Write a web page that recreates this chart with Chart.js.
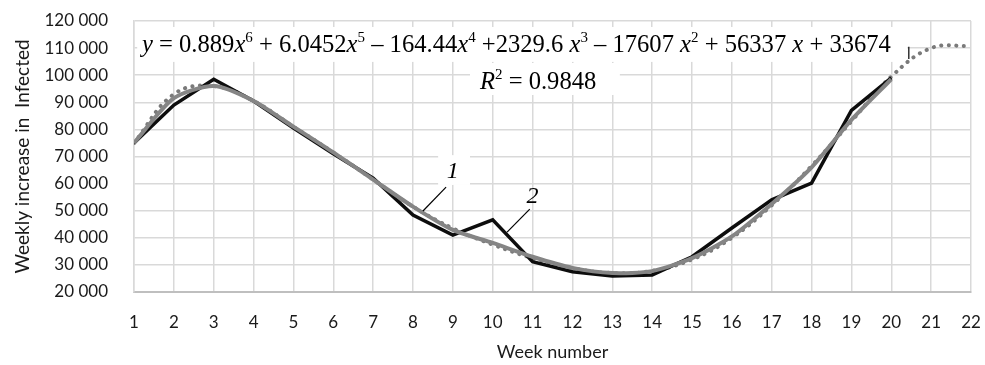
<!DOCTYPE html>
<html>
<head>
<meta charset="utf-8">
<script src="https://cdn.jsdelivr.net/npm/chart.js@4/dist/chart.umd.min.js"></script>
<style>
  html, body { margin: 0; padding: 0; background: #fff; }
  #wrap { width: 985px; height: 365px; }
</style>
</head>
<body>
<div id="wrap"><canvas id="chart"></canvas></div>
<script>
// weeks on the x axis
const weeks = [1, 2, 3, 4, 5, 6, 7, 8, 9, 10, 11, 12, 13, 14, 15, 16, 17, 18, 19, 20, 21, 22];

// curve 2: observed weekly increase (black)
const observed = [75000, 89000, 98500, 90500, 80500, 71000, 62000, 48400, 41000, 46600,
  31200, 27500, 25900, 26300, 33000, 43600, 54000, 60200, 87000, 99000];

// curve 1: model (grey)
const model = [75000, 91500, 96000, 90500, 81000, 71500, 61500, 51500, 42900, 38100,
  33000, 28900, 27000, 27700, 32500, 40500, 52500, 66000, 83500, 98500];

// polynomial trend (dotted), runs on to week 22
const trend = [75000, 93000, 96000, 90500, 81000, 71500, 61500, 51500, 43500, 37500,
  32500, 28800, 27000, 27800, 32000, 40000, 52000, 66500, 83000, 99500, 110000, 110800];

const yTicks = [20000, 30000, 40000, 50000, 60000, 70000, 80000, 90000, 100000, 110000, 120000];

// equation text runs: [text, style]  i = italic, s = superscript
const equation = [
  ['y', 'i'], [' = 0.889', ''], ['x', 'i'], ['6', 's'],
  [' + 6.0452', ''], ['x', 'i'], ['5', 's'],
  [' \u2013 164.44', ''], ['x', 'i'], ['4', 's'],
  [' +2329.6 ', ''], ['x', 'i'], ['3', 's'],
  [' \u2013 17607 ', ''], ['x', 'i'], ['2', 's'],
  [' + 56337 ', ''], ['x', 'i'], [' + 33674', '']
];
const rSquared = [['R', 'i'], ['2', 's'], [' = 0.9848', '']];

const pts = arr => arr.map((v, i) => ({ x: weeks[i], y: v }));

const SERIF = '"Liberation Serif", "Times New Roman", serif';

function drawRuns(ctx, runs, x, y, size) {
  ctx.textBaseline = 'alphabetic';
  ctx.textAlign = 'left';
  ctx.fillStyle = '#000';
  for (const [t, s] of runs) {
    if (s === 's') {
      ctx.font = Math.round(size * 0.62) + 'px ' + SERIF;
      ctx.fillText(t, x, y - size * 0.4);
    } else {
      ctx.font = (s === 'i' ? 'italic ' : '') + size + 'px ' + SERIF;
      ctx.fillText(t, x, y);
    }
    x += ctx.measureText(t).width;
  }
}

const notes = {
  id: 'notes',
  beforeDatasetsDraw(chart) {
    const { ctx, scales: { x, y } } = chart;
    ctx.save();
    ctx.fillStyle = '#fff';
    const box = (x0, x1, y0, y1) => {
      const px = x.getPixelForValue(x0), py = y.getPixelForValue(y0);
      ctx.fillRect(px, py, x.getPixelForValue(x1) - px, y.getPixelForValue(y1) - py);
    };
    box(1.08, 20.4, 117800, 104900);
    box(9.43, 13.19, 104500, 92700);
    box(8.63, 9.43, 70500, 59500);
    ctx.restore();
  },
  afterDatasetsDraw(chart) {
    const { ctx, scales: { x, y } } = chart;
    ctx.save();
    drawRuns(ctx, equation, x.getPixelForValue(1.2), y.getPixelForValue(108500), 24.6);
    drawRuns(ctx, rSquared, x.getPixelForValue(9.68), y.getPixelForValue(94900), 24.6);

    ctx.font = 'italic 24px ' + SERIF;
    ctx.textAlign = 'center';
    ctx.textBaseline = 'middle';
    ctx.fillText('1', x.getPixelForValue(9.0), y.getPixelForValue(64300));
    ctx.fillText('2', x.getPixelForValue(11.0), y.getPixelForValue(55000));

    ctx.strokeStyle = '#000';
    ctx.lineWidth = 1.2;
    const line = (a, b, c, d) => {
      ctx.beginPath();
      ctx.moveTo(x.getPixelForValue(a), y.getPixelForValue(b));
      ctx.lineTo(x.getPixelForValue(c), y.getPixelForValue(d));
      ctx.stroke();
    };
    line(8.83, 58700, 8.25, 49900);
    line(10.93, 50600, 10.36, 42100);
    // little mark at the end of the equation box
    line(20.44, 110500, 20.44, 106000);
    ctx.restore();
  }
};

new Chart(document.getElementById('chart'), {
  type: 'line',
  data: {
    datasets: [
      {
        label: 'trend',
        data: pts(trend),
        borderColor: '#7a7a7a',
        borderWidth: 4,
        borderDash: [0.1, 7.5],
        borderCapStyle: 'round',
        tension: 0.4,
        pointRadius: 0,
        order: 3
      },
      {
        label: '2',
        data: pts(observed),
        borderColor: '#0d0d0d',
        borderWidth: 3.5,
        tension: 0,
        pointRadius: 0,
        order: 2
      },
      {
        label: '1',
        data: pts(model),
        borderColor: '#858585',
        borderWidth: 4,
        tension: 0.25,
        pointRadius: 0,
        order: 1
      }
    ]
  },
  options: {
    responsive: true,
    maintainAspectRatio: false,
    animation: false,
    layout: { padding: { top: 21, right: 14, left: 0, bottom: 2 } },
    plugins: {
      legend: { display: false },
      tooltip: { enabled: false }
    },
    scales: {
      x: {
        type: 'linear',
        min: 1,
        max: 22,
        afterBuildTicks: s => { s.ticks = weeks.map(v => ({ value: v })); },
        afterFit: s => {
          s.height = 71;
          s.paddingLeft = 0;
          s.paddingRight = 8;
        },
        grid: { color: '#d9d9d9', lineWidth: 1.5, drawTicks: false },
        border: { color: '#bfbfbf', width: 2 },
        ticks: {
          padding: 20,
          color: '#1a1a1a',
          font: { family: 'Lato', size: 17 },
          maxRotation: 0,
          autoSkip: false
        },
        title: {
          display: true,
          text: 'Week number',
          color: '#1a1a1a',
          font: { family: 'Lato', size: 18 },
          padding: { top: 11, bottom: 0 }
        }
      },
      y: {
        min: 20000,
        max: 120000,
        afterBuildTicks: s => { s.ticks = yTicks.map(v => ({ value: v })); },
        afterFit: s => {
          s.width = 134;
          s.paddingTop = 8;
          s.paddingBottom = 8;
        },
        grid: { color: '#d9d9d9', lineWidth: 1.5, drawTicks: false },
        border: { color: '#d9d9d9', width: 1.5 },
        ticks: {
          padding: 26,
          color: '#1a1a1a',
          font: { family: 'Lato', size: 17 },
          callback: v => String(v).replace(/(\d{3})$/, ' $1')
        },
        title: {
          display: true,
          text: 'Weekly increase in  Infected',
          color: '#1a1a1a',
          font: { family: 'Lato', size: 19 },
          padding: { top: 11, bottom: 0 }
        }
      }
    }
  },
  plugins: [notes]
});
</script>
</body>
</html>
